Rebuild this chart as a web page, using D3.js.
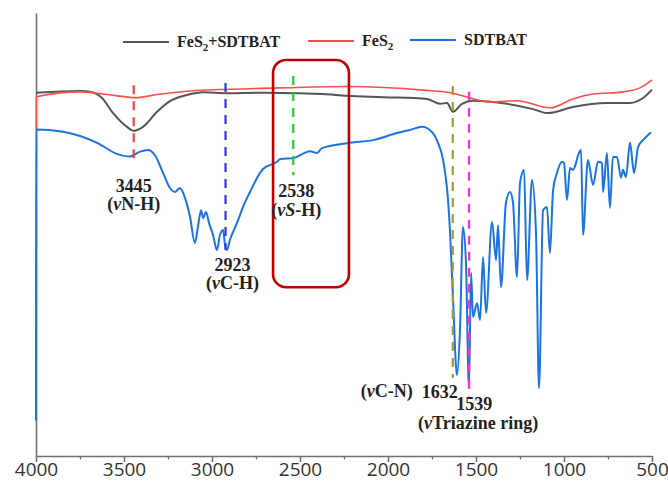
<!DOCTYPE html>
<html>
<head>
<meta charset="utf-8">
<script src="https://cdn.jsdelivr.net/npm/d3@7"></script>
<style>
  body { margin: 0; background: #fff; }
  svg { display: block; }
</style>
</head>
<body>
<svg id="chart"></svg>
<script>
// FeS2+SDTBAT (gray)
var mixWn = [4000, 3750, 3693, 3625, 3562, 3483, 3445, 3392, 3312, 3239, 3142, 3051, 2915, 2710, 2517, 2369,
  2233, 2028, 1778, 1704, 1665, 1631, 1580, 1517, 1324, 1176, 1091, 949, 756, 625, 551, 500];
var mixT = [82.0, 82.4, 82.2, 80.8, 77.4, 74.3, 73.4, 74.3, 77.7, 80.1, 81.5, 82.1, 81.9, 82.0, 81.9, 81.7,
  81.3, 81.0, 80.6, 79.5, 79.7, 77.7, 79.5, 80.2, 79.5, 78.3, 77.4, 78.8, 79.7, 79.7, 80.8, 82.7];

// FeS2 (red)
var fes2Wn = [4000, 3998, 3750, 3653, 3540, 3432, 3312, 3125, 2898, 2614, 2233, 1801, 1631, 1534, 1420, 1267,
  1080, 949, 835, 665, 568, 500];
var fes2T = [35.0, 81.1, 82.2, 81.9, 81.3, 80.9, 81.6, 82.4, 82.8, 83.1, 83.4, 82.6, 81.9, 80.8, 79.9, 80.2,
  78.6, 80.6, 81.7, 82.2, 83.1, 84.9];

// SDTBAT (blue)
var sdtWn = [4000, 3998, 3847, 3653, 3540, 3466, 3409, 3364, 3324, 3278, 3239, 3210, 3182, 3153, 3125, 3097,
  3080, 3062, 3051, 3034, 3017, 2994, 2972, 2955, 2937, 2926, 2915, 2898, 2858, 2824, 2784, 2727, 2710,
  2631, 2614, 2534, 2443, 2403, 2375, 2216, 2085, 1949, 1875, 1807, 1750, 1716, 1687, 1659, 1648, 1631,
  1608, 1591, 1574, 1557, 1540, 1528, 1517, 1494, 1477, 1460, 1443, 1409, 1386, 1375, 1358, 1330, 1307,
  1290, 1267, 1250, 1227, 1210, 1182, 1159, 1142, 1119, 1097, 1080, 1062, 1040, 1011, 1000, 983, 966,
  949, 932, 920, 903, 892, 864, 835, 807, 784, 778, 756, 739, 722, 699, 676, 665, 648, 625, 602, 579,
  551, 506];
var sdtT = [8.0, 73.7, 73.2, 70.7, 68.2, 67.6, 68.7, 69.1, 67.9, 63.9, 60.5, 59.6, 60.5, 58.2, 54.0, 48.1,
  51.7, 55.5, 53.7, 55.1, 52.6, 49.9, 46.5, 49.9, 51.0, 47.6, 46.5, 48.8, 52.6, 56.2, 59.6, 63.9, 64.8,
  66.4, 67.0, 67.3, 68.8, 68.4, 69.5, 70.7, 71.3, 72.9, 73.6, 74.3, 73.1, 70.7, 66.8, 57.8, 51.0, 35.9,
  18.3, 28.4, 51.7, 43.6, 15.3, 41.3, 31.4, 34.5, 30.7, 44.9, 32.3, 52.8, 44.2, 52.1, 38.1, 57.1, 59.6,
  57.3, 40.4, 61.6, 64.6, 39.7, 62.3, 50.3, 15.3, 55.5, 56.2, 45.8, 60.0, 63.9, 66.4, 66.1, 57.8, 65.0,
  64.6, 66.1, 67.9, 69.1, 49.9, 66.8, 61.2, 66.4, 66.1, 59.6, 68.4, 56.0, 67.5, 67.5, 62.8, 64.6, 63.0,
  70.7, 63.9, 69.8, 71.3, 73.1];

var xTicks = [4000, 3500, 3000, 2500, 2000, 1500, 1000, 500];
var xMinorTicks = [3750, 3250, 2750, 2250, 1750, 1250, 750];

// marker lines: wavenumber, top and bottom (in %T)
var markWn = [3445, 2923, 2538, 1632, 1539];
var markTop = [83.7, 84.2, 85.8, 83.5, 82.2];
var markBottom = [65.7, 46.5, 63.4, 17.6, 13.5];
var markColor = ['#ff3b3b', '#3434d8', '#1fcc2a', '#a39a3a', '#ff2ed0'];

var boxWn = [2653, 2222];
var boxT = [89.4, 38.1];

var width = 668, height = 482;
var svg = d3.select('#chart').attr('width', width).attr('height', height);

var x = d3.scaleLinear().domain([4000, 500]).range([36, 652]);
var y = d3.scaleLinear().domain([0, 100]).range([456, 13]);

// axes
svg.append('g')
  .attr('transform', 'translate(0,456)')
  .call(d3.axisBottom(x).tickValues(xTicks).tickSize(6).tickSizeOuter(0).tickPadding(0).tickFormat(d3.format('d')))
  .call(g => {
    g.select('.domain').attr('stroke', '#707070').attr('stroke-width', 1.6);
    g.selectAll('.tick line').attr('stroke', '#707070').attr('stroke-width', 1.6);
    g.selectAll('.tick text').attr('fill', '#333').attr('font-family', 'Open Sans').attr('font-size', '19px');
  });
svg.append('g')
  .attr('transform', 'translate(0,456)')
  .call(d3.axisBottom(x).tickValues(xMinorTicks).tickSize(3.5).tickFormat(''))
  .call(g => {
    g.select('.domain').remove();
    g.selectAll('.tick line').attr('stroke', '#707070').attr('stroke-width', 1.4);
  });
svg.append('g')
  .attr('transform', 'translate(36,0)')
  .call(d3.axisLeft(y).tickValues([]).tickSizeOuter(0))
  .call(g => g.select('.domain').attr('stroke', '#707070').attr('stroke-width', 1.6));

// spectra
function spectrum(wn, t, color, w) {
  var pts = wn.map((d, i) => [d, t[i]]);
  svg.append('path')
    .datum(pts)
    .attr('fill', 'none')
    .attr('stroke', color)
    .attr('stroke-width', w)
    .attr('stroke-linejoin', 'round')
    .attr('d', d3.line().x(d => x(d[0])).y(d => y(d[1])).curve(d3.curveMonotoneX));
}
spectrum(mixWn, mixT, '#555555', 2);
spectrum(fes2Wn, fes2T, '#ff4d4d', 1.6);
spectrum(sdtWn, sdtT, '#1a73e0', 2);

// dashed markers
svg.selectAll('line.mark')
  .data(markWn)
  .enter()
  .append('line')
  .attr('class', 'mark')
  .attr('x1', d => x(d)).attr('x2', d => x(d))
  .attr('y1', (d, i) => y(markTop[i]))
  .attr('y2', (d, i) => y(markBottom[i]))
  .attr('stroke', (d, i) => markColor[i])
  .attr('stroke-width', 2.2)
  .attr('stroke-dasharray', '9,7');

// highlight box
svg.append('rect')
  .attr('x', x(boxWn[0]))
  .attr('y', y(boxT[0]))
  .attr('width', x(boxWn[1]) - x(boxWn[0]))
  .attr('height', y(boxT[1]) - y(boxT[0]))
  .attr('rx', 13)
  .attr('fill', 'none')
  .attr('stroke', '#c00000')
  .attr('stroke-width', 2.6);

// annotations
function label(tx, ty, parts, anchor) {
  var t = svg.append('text')
    .attr('x', tx).attr('y', ty)
    .attr('text-anchor', anchor || 'middle')
    .attr('font-family', 'Liberation Serif')
    .attr('font-weight', 'bold')
    .attr('font-size', '18px')
    .attr('fill', '#222');
  parts.forEach(p => {
    t.append('tspan').text(p[0]).attr('font-style', p[1] ? 'italic' : 'normal');
  });
}
label(x(3445), 192, [['3445']]);
label(x(3445), 210, [['('], ['v', 1], ['N-H)']]);
label(x(2923) + 7, 271, [['2923']]);
label(x(2923) + 7, 289, [['('], ['v', 1], ['C-H)']]);
label(x(2538) + 3, 197, [['2538']]);
label(x(2538) + 3, 216, [['('], ['v', 1], ['S', 1], ['-H)']]);
label(x(1632) - 40, 397, [['('], ['v', 1], ['C-N)']], 'end');
label(x(1632) - 31, 398, [['1632']], 'start');
label(x(1539) + 5, 410, [['1539']]);
label(x(1539) + 9, 429, [['('], ['v', 1], ['Triazine  ring)']]);

// legend
var legendItems = [
  { name: 'FeS', sub: '2', rest: '+SDTBAT', color: '#555555', x0: 123, ly: 42 },
  { name: 'FeS', sub: '2', rest: '', color: '#ff4d4d', x0: 308, ly: 41 },
  { name: 'SDTBAT', sub: '', rest: '', color: '#1a73e0', x0: 410, ly: 40 }
];
var lg = svg.selectAll('g.legend')
  .data(legendItems)
  .enter()
  .append('g')
  .attr('class', 'legend');
lg.append('line')
  .attr('x1', d => d.x0).attr('x2', d => d.x0 + 46)
  .attr('y1', d => d.ly).attr('y2', d => d.ly)
  .attr('stroke', d => d.color)
  .attr('stroke-width', 2);
var lt = lg.append('text')
  .attr('x', d => d.x0 + 54)
  .attr('y', d => d.ly + 5)
  .attr('font-family', 'Liberation Serif')
  .attr('font-weight', 'bold')
  .attr('font-size', '16px')
  .attr('fill', '#222');
lt.append('tspan').text(d => d.name);
lt.append('tspan').text(d => d.sub).attr('font-size', '11px').attr('dy', 4);
lt.append('tspan').text(d => d.rest).attr('dy', -4);
</script>
</body>
</html>
